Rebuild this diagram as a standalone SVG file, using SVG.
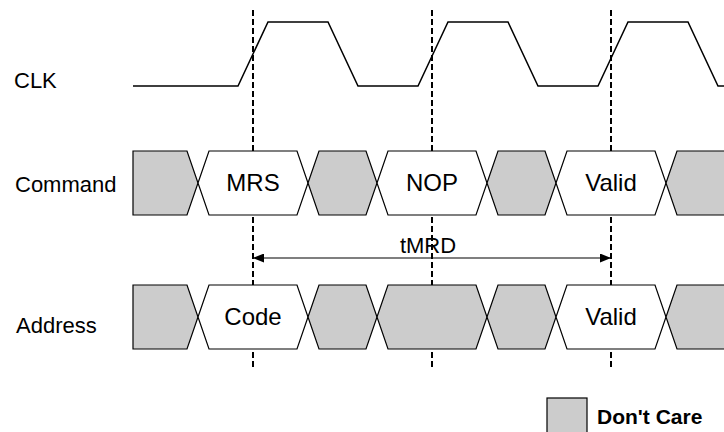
<svg xmlns="http://www.w3.org/2000/svg" width="724" height="432" viewBox="0 0 724 432">
  <defs>
    <style>
      .lbl { font-family: "Liberation Sans", Arial, sans-serif; font-size: 22px; fill: #000; }
      .val { font-family: "Liberation Sans", Arial, sans-serif; font-size: 24px; fill: #000; text-anchor: middle; }
      .gray { fill: #cccccc; stroke: #000; stroke-width: 1.2; }
      .white { fill: #ffffff; stroke: #000; stroke-width: 1.2; }
      .wave { fill: none; stroke: #000; stroke-width: 1.5; }
      .dash { stroke: #000; stroke-width: 2; stroke-dasharray: 6 3; fill: none; }
      .dim { stroke: #000; stroke-width: 1.2; fill: none; }
    </style>
    <marker id="arrowEnd" markerWidth="11" markerHeight="9" refX="11" refY="4.5" orient="auto" markerUnits="userSpaceOnUse">
      <path d="M0,0 L11,4.5 L0,9 Z" fill="#000"/>
    </marker>
    <marker id="arrowStart" markerWidth="11" markerHeight="9" refX="0" refY="4.5" orient="auto" markerUnits="userSpaceOnUse">
      <path d="M11,0 L0,4.5 L11,9 Z" fill="#000"/>
    </marker>
  </defs>
  <rect width="724" height="432" fill="#ffffff"/>

  <!-- reference dashed lines -->
  <g id="guides">
    <line class="dash" x1="253" y1="10" x2="253" y2="368"/>
    <line class="dash" x1="432" y1="10" x2="432" y2="368"/>
    <line class="dash" x1="611" y1="10" x2="611" y2="368"/>
  </g>

  <!-- signal labels -->
  <g id="labels">
    <text class="lbl" x="14" y="88">CLK</text>
    <text class="lbl" x="15" y="192">Command</text>
    <text class="lbl" x="16" y="333">Address</text>
  </g>

  <!-- CLK waveform -->
  <g id="clk">
    <polyline class="wave" points="133,86 238,86 268,22 328,22 358,86 418,86 448,22 508,22 538,86 598,86 628,22 688,22 718,86 724,86"/>
  </g>

  <!-- Command bus -->
  <g id="command">
    <polygon class="gray" points="133,151 187,151 198,183 187,215 133,215"/>
    <polygon class="white" points="198,183 209,151 297,151 308,183 297,215 209,215"/>
    <polygon class="gray" points="308,183 319,151 366,151 377,183 366,215 319,215"/>
    <polygon class="white" points="377,183 388,151 476,151 487,183 476,215 388,215"/>
    <polygon class="gray" points="487,183 498,151 545,151 556,183 545,215 498,215"/>
    <polygon class="white" points="556,183 567,151 655,151 666,183 655,215 567,215"/>
    <polygon class="gray" points="666,183 677,151 730,151 730,215 677,215"/>
    <text class="val" x="253" y="191">MRS</text>
    <text class="val" x="432" y="191">NOP</text>
    <text class="val" x="611" y="191">Valid</text>
  </g>

  <!-- Address bus -->
  <g id="address">
    <polygon class="gray" points="133,285 187,285 198,317 187,349 133,349"/>
    <polygon class="white" points="198,317 209,285 297,285 308,317 297,349 209,349"/>
    <polygon class="gray" points="308,317 319,285 366,285 377,317 366,349 319,349"/>
    <polygon class="gray" points="377,317 388,285 476,285 487,317 476,349 388,349"/>
    <polygon class="gray" points="487,317 498,285 545,285 556,317 545,349 498,349"/>
    <polygon class="white" points="556,317 567,285 655,285 666,317 655,349 567,349"/>
    <polygon class="gray" points="666,317 677,285 730,285 730,349 677,349"/>
    <text class="val" x="253" y="325">Code</text>
    <text class="val" x="611" y="325">Valid</text>
  </g>

  <!-- tMRD dimension -->
  <g id="connectors">
    <line class="dim" x1="253" y1="258" x2="611" y2="258" marker-start="url(#arrowStart)" marker-end="url(#arrowEnd)"/>
    <text class="lbl" x="428" y="253" text-anchor="middle">tMRD</text>
  </g>

  <!-- legend -->
  <g id="legend">
    <rect class="gray" x="547" y="398" width="40" height="40"/>
    <text x="597" y="424" font-family="'Liberation Sans', Arial, sans-serif" font-size="21" font-weight="bold" fill="#000">Don't Care</text>
  </g>
</svg>
